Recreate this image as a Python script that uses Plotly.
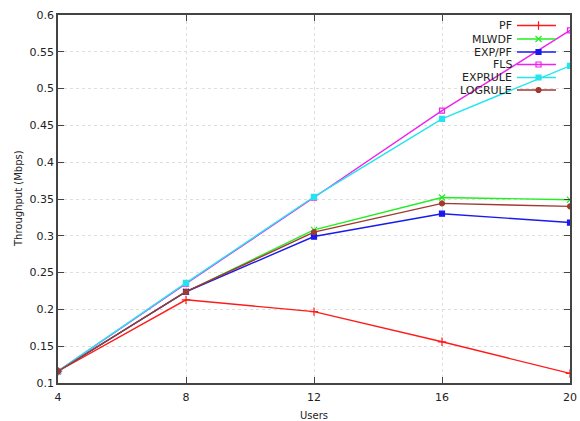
import plotly.graph_objects as go

users = [4, 8, 12, 16, 20]
series_names = ["PF", "MLWDF", "EXP/PF", "FLS", "EXPRULE", "LOGRULE"]
pf = [0.116, 0.213, 0.197, 0.156, 0.113]
mlwdf = [0.116, 0.224, 0.308, 0.352, 0.349]
exppf = [0.116, 0.224, 0.299, 0.330, 0.318]
fls = [0.116, 0.235, 0.352, 0.470, 0.579]
exprule = [0.116, 0.236, 0.353, 0.459, 0.531]
logrule = [0.116, 0.224, 0.305, 0.344, 0.340]
y_ticks = [0.1, 0.15, 0.2, 0.25, 0.3, 0.35, 0.4, 0.45, 0.5, 0.55, 0.6]
y_tick_text = ["0.1", "0.15", "0.2", "0.25", "0.3", "0.35", "0.4", "0.45", "0.5", "0.55", "0.6"]

values = [pf, mlwdf, exppf, fls, exprule, logrule]
colors = ["#ff1a1a", "#22ee22", "#1a1aee", "#ee22ee", "#22e5ee", "#a03a30"]
symbols = ["cross-thin", "x-thin", "square", "square-open", "square", "circle"]
msizes = [6, 6, 5, 5, 5, 5]

fig = go.Figure()
for name, vals, c, s, ms in zip(series_names, values, colors, symbols, msizes):
    fig.add_trace(go.Scatter(
        x=users, y=vals, mode="lines+markers", name=name,
        line=dict(color=c, width=1.4),
        marker=dict(symbol=s, size=ms, color=c, line=dict(color=c, width=1.2)),
        showlegend=False,
    ))

# custom legend (text right-aligned, sample on the right), drawn on overlay axes
L, R, T, B = 58, 570, 15, 383
W, H = R - L, B - T
leg_y = [25.5, 39, 52, 64.5, 77.5, 90]
for name, c, s, ms, py in zip(series_names, colors, symbols, msizes, leg_y):
    yy = (B - py) / H
    x0, x1, xm = (517 - L) / W, (556 - L) / W, (538.5 - L) / W
    fig.add_trace(go.Scatter(
        x=[x0, x1], y=[yy, yy], mode="lines", xaxis="x2", yaxis="y2",
        line=dict(color=c, width=1.4), showlegend=False, hoverinfo="skip"))
    fig.add_trace(go.Scatter(
        x=[xm], y=[yy], mode="markers", xaxis="x2", yaxis="y2",
        marker=dict(symbol=s, size=ms, color=c, line=dict(color=c, width=1.2)),
        showlegend=False, hoverinfo="skip"))
    fig.add_annotation(x=(514 - L) / W, y=yy, xref="x2", yref="y2", text=name,
                       showarrow=False, xanchor="right", yanchor="middle",
                       font=dict(family="DejaVu Sans", size=11, color="#222222"))

# axis titles
fig.add_annotation(x=0.5, y=(B - 415) / H, xref="paper", yref="paper", text="Users",
                   showarrow=False, xanchor="center", yanchor="middle",
                   font=dict(size=10, color="#222222"))
fig.add_annotation(x=(18 - L) / W, y=0.5, xref="paper", yref="paper",
                   text="Throughput (Mbps)", textangle=-90,
                   showarrow=False, xanchor="center", yanchor="middle",
                   font=dict(size=10, color="#222222"))

fig.update_layout(
    width=580, height=421,
    margin=dict(l=L, r=580 - R, t=T, b=421 - B, autoexpand=False),
    paper_bgcolor="white", plot_bgcolor="white",
    font=dict(family="DejaVu Sans", size=11, color="#222222"),
    xaxis=dict(
        range=[4, 20], tickvals=users, ticktext=[str(u) for u in users],
        showgrid=True, gridcolor="#dedede", griddash="dot", gridwidth=1,
        showline=True, linecolor="#444444", linewidth=1.5, mirror="ticks",
        ticks="inside", ticklen=6, tickcolor="#444444",
        zeroline=False, ticklabeloverflow="allow", automargin=False,
        ticklabelstandoff=3, tickfont=dict(size=11),
    ),
    yaxis=dict(
        range=[0.1, 0.6], tickvals=y_ticks, ticktext=y_tick_text,
        showgrid=True, gridcolor="#dedede", griddash="dot", gridwidth=1,
        showline=True, linecolor="#444444", linewidth=1.5, mirror="ticks",
        ticks="inside", ticklen=6, tickcolor="#444444",
        zeroline=False, ticklabeloverflow="allow", automargin=False,
        tickfont=dict(size=11),
    ),
    xaxis2=dict(overlaying="x", range=[0, 1], visible=False, fixedrange=True),
    yaxis2=dict(overlaying="y", range=[0, 1], visible=False, fixedrange=True),
)

fig.write_html("out.html", config={"displayModeBar": False},
               post_script="document.body.style.margin='0px';document.body.style.overflow='hidden';")
